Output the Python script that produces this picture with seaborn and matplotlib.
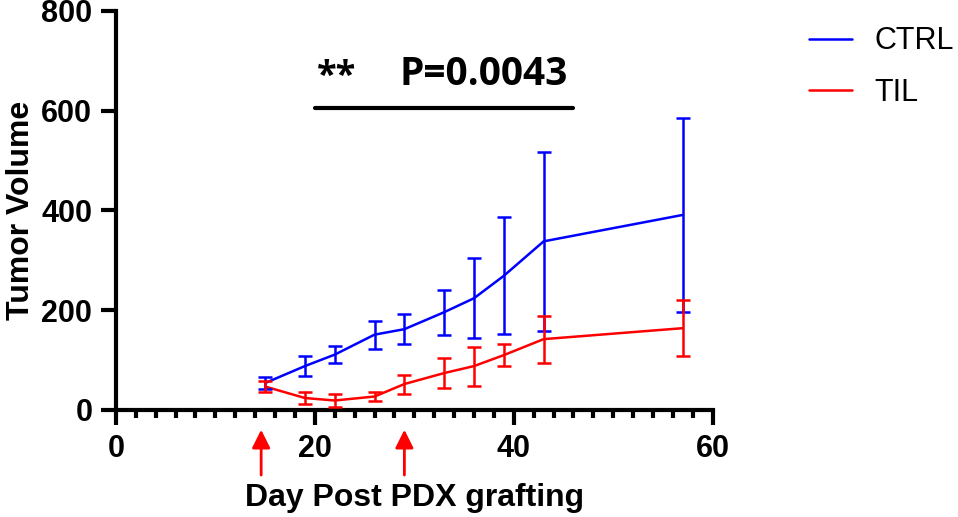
import numpy as np
import pandas as pd
import matplotlib
matplotlib.use("Agg")
import matplotlib.pyplot as plt
import seaborn as sns
from matplotlib.ticker import MultipleLocator

# data (mean +/- error)
days = [15, 19, 22, 26, 29, 33, 36, 39, 43, 57]
ctrl_mean = [54, 88, 111, 151, 162, 196, 224, 269, 338, 391]
ctrl_err = [12, 20, 17, 28, 30, 45, 80, 117, 180, 195]
til_mean = [47, 24, 19, 27, 52, 74, 88, 110, 142, 164]
til_err = [11, 12, 14, 10, 19, 30, 39, 22, 47, 56]
treatment_days = [14.6, 29]

df = pd.DataFrame({
    "day": days * 2,
    "volume": ctrl_mean + til_mean,
    "err": ctrl_err + til_err,
    "group": ["CTRL"] * len(days) + ["TIL"] * len(days),
})
colors = {"CTRL": "#0000ff", "TIL": "#ff0000"}

sns.set_style("ticks")
plt.rcParams["font.family"] = ["Liberation Sans", "DejaVu Sans"]
for k in ["text.color", "axes.labelcolor", "xtick.color", "ytick.color", "axes.edgecolor"]:
    plt.rcParams[k] = "black"

fig = plt.figure(figsize=(9.58, 5.17), dpi=100)
ax = fig.add_axes([0.121, 0.207, 0.623, 0.772])

sns.lineplot(data=df, x="day", y="volume", hue="group", palette=colors,
             linewidth=1.8, ax=ax, zorder=3)
for g, sub in df.groupby("group"):
    ax.errorbar(sub["day"], sub["volume"], yerr=sub["err"], fmt="none",
                ecolor=colors[g], elinewidth=1.8, capsize=5.3, capthick=1.8,
                zorder=3)

ax.set_xlim(0, 60)
ax.set_ylim(0, 800)
ax.xaxis.set_major_locator(MultipleLocator(20))
ax.xaxis.set_minor_locator(MultipleLocator(2))
ax.yaxis.set_major_locator(MultipleLocator(200))
sns.despine(ax=ax)
for s in ["left", "bottom"]:
    ax.spines[s].set_linewidth(3)
ax.tick_params(which="major", length=11, width=3, labelsize=22, pad=6)
ax.tick_params(which="minor", length=5.5, width=3)
for lab in ax.get_xticklabels() + ax.get_yticklabels():
    lab.set_fontweight("bold")

ax.set_xlabel("Day Post PDX grafting", fontsize=23, fontweight="bold", labelpad=14)
ax.set_ylabel("Tumor Volume", fontsize=23, fontweight="bold", labelpad=4)

# significance bar
ax.plot([20, 46], [606, 606], color="black", linewidth=3, clip_on=False)
ax.text(20.2, 668, "**", fontsize=26, fontweight="bold", family="Open Sans",
        ha="left", va="center")
ax.text(28.5, 672, "P=0.0043", fontsize=28, fontweight="bold", family="Open Sans",
        ha="left", va="center")

# treatment arrows below the axis
for d in treatment_days:
    ax.annotate("", xy=(d, -34), xytext=(d, -136), xycoords="data",
                annotation_clip=False,
                arrowprops=dict(arrowstyle="-|>,head_length=1.1,head_width=0.55",
                                color="#ff0000", lw=2))

leg = ax.legend(loc="upper left", bbox_to_anchor=(1.115, 1.03), frameon=False,
                fontsize=22, handlelength=1.4, handletextpad=0.75, labelspacing=0.7)
for line in leg.get_lines():
    line.set_linewidth(1.8)

fig.savefig("out.png", dpi=100)
